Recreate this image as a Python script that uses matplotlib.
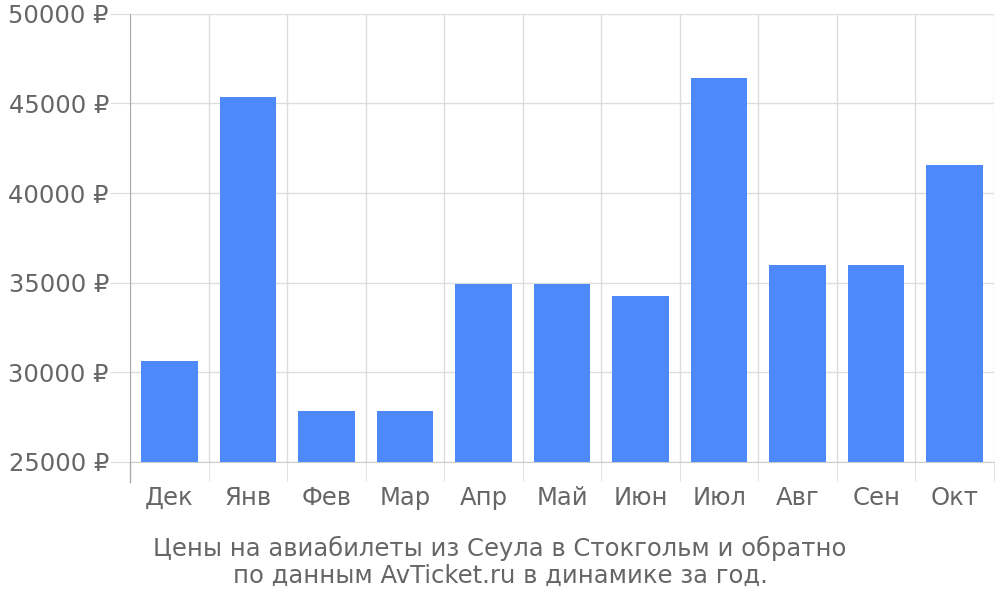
import numpy as np
import matplotlib
matplotlib.use('Agg')
import matplotlib.pyplot as plt

plt.rcParams['font.family'] = ['DejaVu Sans']

# Data
months = ['Дек', 'Янв', 'Фев', 'Мар', 'Апр', 'Май', 'Июн', 'Июл', 'Авг', 'Сен', 'Окт']
prices = [30650, 45370, 27850, 27850, 34930, 34930, 34260, 46430, 35990, 35990, 41570]
y_ticks = [25000, 30000, 35000, 40000, 45000, 50000]
title = 'Цены на авиабилеты из Сеула в Стокгольм и обратно\nпо данным AvTicket.ru в динамике за год.'

TEXT = '#666666'
GRID = '#dddddd'

fig = plt.figure(figsize=(10, 6), dpi=100)
ax = fig.add_axes([0.130, 0.230, 0.864, 0.747])

x = np.arange(len(months))
ax.bar(x, np.array(prices) - 25000, bottom=25000, width=0.72,
       color='#4d89f9', zorder=3)

ax.set_xlim(-0.5, len(months) - 0.5)
ax.set_ylim(25000, 50000)

# Horizontal grid with ticks extending left
ax.set_yticks(y_ticks)
ax.set_yticklabels([f'{v} ₽' for v in y_ticks])
ax.yaxis.grid(True, color=GRID, linewidth=1, zorder=0)
ax.tick_params(axis='y', length=14.5, color=GRID, labelsize=17.5,
               labelcolor=TEXT, pad=0.7)

# Vertical boundaries between categories, with ticks extending down
ax.set_xticks(np.arange(len(months) + 1) - 0.5, minor=True)
ax.xaxis.grid(True, which='minor', color=GRID, linewidth=1, zorder=0)
ax.tick_params(axis='x', which='minor', length=14, color=GRID)
ax.set_xticks(x)
ax.set_xticklabels(months)
ax.tick_params(axis='x', which='major', length=0, labelsize=17.5,
               labelcolor=TEXT, pad=17)

for side in ['top', 'right']:
    ax.spines[side].set_visible(False)
ax.spines['bottom'].set_color('#cccccc')
ax.spines['left'].set_color('#aaaaaa')

# Left axis line extends below the plot like the ticks
ax.plot([-0.5, -0.5], [0, -0.045], transform=ax.get_xaxis_transform(),
        color='#aaaaaa', linewidth=1, clip_on=False, zorder=4)

fig.text(0.5, 0.063, title, ha='center', va='center', fontsize=17.5,
         color=TEXT, linespacing=1.17)

fig.savefig('out.png', dpi=100)
